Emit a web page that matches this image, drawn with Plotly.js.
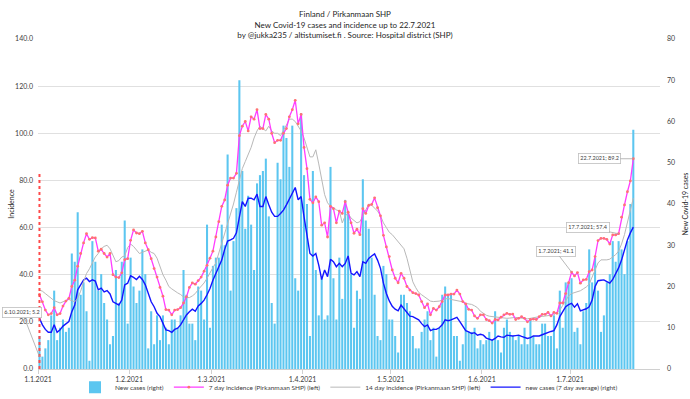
<!DOCTYPE html>
<html><head><meta charset="utf-8">
<script src="https://cdn.plot.ly/plotly-3.0.1.min.js"></script>
<style>html,body{margin:0;padding:0;background:#fff}#chart{width:690px;height:399px}</style>
</head><body><div id="chart"></div>
<script>
// ---- data (1.1.2021 ... 22.7.2021, one value per day) ----
const startDate = [2021, 0, 1];
const newCases = [8,3,5,7,13,19,7,10,12,9,
 10,28,26,38,18,21,14,2,31,26,
 19,23,16,12,6,8,24,16,26,36,
 11,27,20,16,19,29,23,5,14,6,
 13,7,13,10,6,12,12,10,13,24,
 18,11,11,7,20,19,12,35,10,25,
 27,27,35,30,52,19,31,39,70,48,
 34,42,35,24,45,47,48,51,37,16,
 11,50,46,59,56,49,59,22,19,62,
 47,40,8,48,24,13,22,12,13,49,
 22,12,27,17,41,38,23,10,19,17,
 46,36,34,27,18,8,7,25,23,12,
 12,8,4,18,18,16,14,8,5,5,
 9,12,14,7,10,3,10,18,20,18,
 18,8,8,2,6,16,9,9,10,5,
 7,6,7,9,7,14,7,4,10,12,
 9,8,7,8,6,10,6,12,8,6,
 6,11,11,8,8,13,5,19,10,21,
 21,22,9,10,6,14,16,29,21,27,
 19,9,13,21,23,31,26,31,29,23,
 31,40,58];
const incidence7 = [31.6,28.5,25,23,23.5,26,23,23.5,26.7,28.8,
 30,35,37.7,43.6,49,53.5,57.4,55,55.7,55.6,
 50,50.8,49,47.5,49,40,39,38.8,40.8,46.4,
 46.8,54.6,59,57.7,57.4,58.4,53.5,50.6,46.8,42.6,
 39,34.6,30.9,25.2,25,23,25,25.2,26,28,
 30.6,34.6,36.5,36,37.5,39,41.5,44,47,50,
 56,62.5,69,71.7,78,81,81,83,99,103,
 105,101,107,106,110,102,102,108,106,100,
 96,97,97,100,102,107,110,114,104,108,
 94,85,72,70.5,73,71,61,62,56,69,
 68,62,67,66,71,66.5,62,57.6,59.3,57,
 68,66,69.4,69.8,72.6,68.4,65,56.7,51.8,47.7,
 42,38.5,36.6,40.6,38.5,35,33.5,32.4,32,31.4,
 28.6,26,27.6,23,25.7,25,26.4,28.6,31.4,31.4,
 31.8,31.8,33.5,31.8,28.6,27.6,25.3,25,22.5,21.5,
 23,23,21,20.5,19.5,21,20.8,22,23,23.6,
 23.2,23.3,21,21.5,22.2,21.5,20,21,21.2,21,
 22.2,23.2,23.2,24,22.5,24,23.6,28,28,32,
 36.6,41.1,39.5,40.9,36.4,37.8,38,41.3,42,47.7,
 54.5,55.4,55.4,55,53,56.9,56.9,57.4,64.4,69.6,
 75.2,79.8,89.2];
const incidence14 = [33.5,33,32,31,30,29,28.5,28,28.5,29,
 29.5,29,28.5,30,33,37,40.5,42.5,45,47.5,
 49,51,52,52.5,51,48,45.5,46,47.5,48,
 51.5,53,52,50.5,49,49.5,50,50.5,49.5,49,
 47,43,40,37.7,35,34,33,32.3,31.6,30.6,
 30.3,30.3,31,32,33.7,35,36.5,38.5,41,43,
 45,49,53,57,61,65,70,75,80,85,
 88,91,94,98,101,103,102,101,103,101,
 100,100,99,101,103.5,106,106,105,103,101,
 98,94,90,90,93,87,81,74,70.5,69,
 68.5,67.5,67,62,65,66,64,63,62,62.5,
 65,68,70,69.5,68,67,65,62,60,58,
 57,55.5,54,52.5,51,47,42,37,34.5,32.5,
 31.5,30.5,29.5,28.8,28.6,28.6,28.8,29.3,29.8,30,
 29.5,29.3,29,28.8,28.5,27.8,27.6,27.4,26.8,26,
 24.5,23.5,22.8,22.4,22.2,22,21.8,21.6,21.5,21.5,
 21.6,21.8,21.9,21.7,21.5,21.2,21.3,21.5,21.8,22,
 22.2,22.3,22.4,22.5,22.6,23,24,25,27,29.3,
 31,32,32.4,32.8,33.2,34,34.8,36,39,42,
 45,46.3,46.2,46.3,46.6,47.5,48.5,50,53,57,
 62,67.5,72.5];
const avg7 = [12.3,10.7,9.6,8.9,8.9,10.7,8.9,9.5,10.4,11,
 11.5,13.9,15.5,19.2,20.4,21.6,22,21.2,21.6,21.3,
 19.2,19.6,18.7,19,18.2,16.3,15.9,15.5,16.7,20.4,
 20.8,22.6,22.2,21.7,22.5,21.7,20.4,18.3,16.3,15.1,
 13.5,12.7,11,9.5,9.3,8.9,9.6,9.9,10.7,11.9,
 13.1,13.9,14.5,14,15.3,15.9,16.7,18,19.5,21.5,
 23,24.5,26.4,29,31,31.3,31.7,33,37,40.6,
 39.4,41.4,41.4,41,42.4,39.4,39.4,41.8,39.8,38,
 37,37,37.7,38.5,39.8,41.1,42.6,44,41,41.8,
 36.9,32,28,27.4,28,25.2,21.7,24,22.4,26.6,
 26,24.8,25.6,24.8,25.6,27.4,23.2,22.8,23.6,22.4,
 26,25.6,26.8,27.4,27.9,26.4,24.4,20.8,18.3,16.5,
 15.2,14.5,14.1,15.5,14.5,13.5,12.8,12.7,12.3,11.9,
 11,10.3,10.7,9.3,9.6,9.6,10,10.7,11.9,11.7,
 11.9,12.3,12.5,11.5,10.5,9.3,9,8.6,8.8,8.2,
 8.4,8.2,7.5,7.3,7,7.4,8,7.8,7.7,8.2,
 8.1,8,8.1,8.2,7.9,7.6,7.4,7.6,8,8,
 8,8.3,8.6,8.9,9.1,9.3,10.7,12.7,14,15.1,
 15.6,15.9,15,15.8,14.1,14.3,14.6,15.1,16.7,20,
 21.4,21.5,21.6,21.2,20.8,21.7,23,24.5,26.4,28.8,
 31.3,33,34.4];
const monthTicks = ['2021-01-01','2021-02-01','2021-03-01','2021-04-01','2021-05-01','2021-06-01','2021-07-01'];
const monthLabels = ['1.1.2021','1.2.2021','1.3.2021','1.4.2021','1.5.2021','1.6.2021','1.7.2021'];
const startMarks = [0, 84];             // red dotted marks at the left edge (incidence units)
const labelDays = [181, 197, 202];
const labelTexts = ['1.7.2021; 41.1', '17.7.2021; 57.4', '22.7.2021; 89.2'];
const oddLabelText = '6.10.2021; 5.2';
const oddLabelValue = 5.2;

// ---- build ----
const dates = newCases.map((_, i) => {
  const d = new Date(Date.UTC(startDate[0], startDate[1], startDate[2] + i));
  return d.toISOString().slice(0, 10);
});
const DAY = 86400000;
const per = {xperiod: DAY, xperiodalignment: 'middle'};

const traces = [
  Object.assign({type:'bar', name:'New cases (right)', x:dates, y:newCases, yaxis:'y',
    marker:{color:'#5cc6f0', line:{width:0}}, legendrank:1}, per),
  Object.assign({type:'scatter', mode:'lines', name:'new cases (7 day average) (right)', x:dates, y:avg7, yaxis:'y',
    line:{color:'#1414ff', width:1.4}, legendrank:4}, per),
  Object.assign({type:'scatter', mode:'lines', name:'14 day incidence (Pirkanmaan SHP) (left)', x:dates, y:incidence14, yaxis:'y2',
    line:{color:'#b8b8b8', width:1}, legendrank:3}, per),
  Object.assign({type:'scatter', mode:'lines+markers', name:'7 day incidence (Pirkanmaan SHP) (left)', x:dates, y:incidence7, yaxis:'y2',
    line:{color:'#ff3cff', width:1.3}, marker:{color:'#ff7272', size:2.8}, legendrank:2}, per),
  Object.assign({type:'scatter', mode:'lines', x:[dates[0], dates[0]], y:startMarks, yaxis:'y2', showlegend:false,
    line:{color:'#ff4a4a', width:2, dash:'dot'}}, per)
];

const annStyle = {showarrow:true, arrowhead:0, arrowwidth:0.8, arrowcolor:'#a6a6a6',
  bgcolor:'#ffffff', bordercolor:'#bfbfbf', borderwidth:0.8, borderpad:1.5,
  font:{size:5.5, color:'#404040'}, xref:'x', yref:'y2'};
const offsets = [[-16,-21],[-31,-6],[-34,0]];
const annotations = labelDays.map((d, k) => Object.assign({}, annStyle, {
  x: dates[d] + ' 12:00', y: incidence7[d], text: labelTexts[k], ax: offsets[k][0], ay: offsets[k][1]}));
annotations.push(Object.assign({}, annStyle, {x: dates[0] + ' 12:00', y: oddLabelValue, text: oddLabelText, ax: -17, ay: -44}));

const tfont = {family:'Lato, "Open Sans", sans-serif', size:7, color:'#404040'};
const layout = {
  width:690, height:399,
  margin:{l:38, r:30, t:39, b:30, pad:0, autoexpand:false},
  paper_bgcolor:'#ffffff', plot_bgcolor:'#ffffff',
  font:{family:'Lato, "Open Sans", sans-serif', size:7, color:'#404040'},
  title:{text:'Finland / Pirkanmaan SHP<br>New Covid-19 cases and incidence up to 22.7.2021<br>by @jukka235 / altistumiset.fi . Source: Hospital district (SHP)',
    x:0.5, xanchor:'center', y:0.957, yanchor:'middle', yref:'container', font:{size:8, color:'#262626'}},
  bargap:0.3,
  showlegend:true,
  legend:{orientation:'h', x:0.5, xanchor:'center', y:-0.055, yanchor:'middle', font:{size:6.5, color:'#404040'}, itemwidth:30, bgcolor:'rgba(0,0,0,0)'},
  xaxis:{type:'date', range:['2021-01-01', '2021-07-31 14:00'], tickvals:monthTicks, ticktext:monthLabels,
    showgrid:false, showline:true, linecolor:'#d0d0d0', linewidth:1, ticks:'outside', ticklen:4, tickcolor:'#d0d0d0',
    tickfont:tfont, zeroline:false},
  yaxis:{side:'right', range:[0,80], dtick:10, showgrid:false, zeroline:false, showline:false, ticks:'',
    tickfont:tfont, ticklabelstandoff:6,
    title:{text:'New Covid-19 cases', font:{size:7, color:'#262626'}}},
  yaxis2:{overlaying:'y', side:'left', range:[0,140], dtick:20, tickformat:'.1f', showgrid:true, gridcolor:'#e0e0e0', gridwidth:1,
    zeroline:false, showline:false, ticks:'', tickfont:tfont, ticklabelstandoff:4,
    title:{text:'Incidence', font:{size:7, color:'#262626'}}},
  annotations: annotations
};
Plotly.newPlot('chart', traces, layout, {staticPlot:true, displayModeBar:false});
</script>
</body></html>
